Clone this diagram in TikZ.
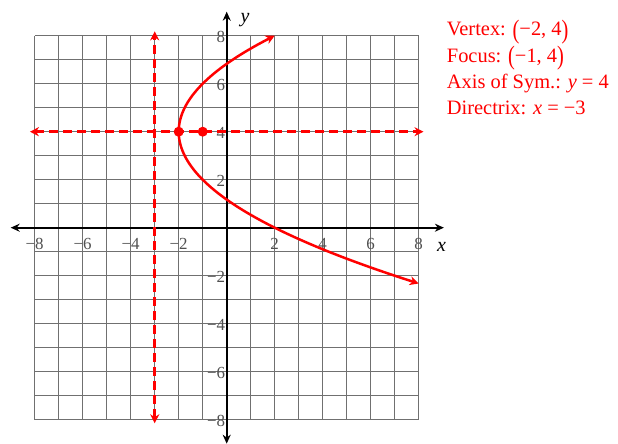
\documentclass[tikz,border=0pt]{standalone}
\usepackage{fontspec}
\usepackage{graphicx}
\setmainfont{Liberation Serif}
\usetikzlibrary{arrows.meta}
\definecolor{gridgray}{HTML}{707070}
\definecolor{ticklbl}{HTML}{505050}
\definecolor{myred}{HTML}{FF0000}
\newcommand{\bigP}[1]{\raisebox{-0.12em}{\scalebox{1}[1.3]{#1}}}
\tikzset{
  gridline/.style={draw=gridgray, line width=1bp},
  axisline/.style={draw=black, line width=1.6bp, {Stealth[length=9bp,width=8bp]}-{Stealth[length=9bp,width=8bp]}},
  redline/.style={draw=myred, line width=2.5bp, {Stealth[length=9bp,width=9bp]}-{Stealth[length=9bp,width=9bp]}},
  reddash/.style={redline, dash pattern=on 9bp off 5bp},
  ticklabel/.style={text=ticklbl, font=\fontsize{17}{17}\selectfont, inner sep=0pt},
  axislabel/.style={font=\fontsize{20}{20}\selectfont\itshape, inner sep=0pt},
  infotext/.style={text=myred, font=\fontsize{20.5}{20.5}\selectfont, inner sep=0pt, anchor=base west},
  reddot/.style={circle, fill=myred, inner sep=0pt, minimum size=10bp}
}
\begin{document}
\begin{tikzpicture}[x=24bp, y=24bp]
\useasboundingbox (-9.446,-9.0125) rectangle (16.304,9.4875);
% grid
\foreach \i in {-8,...,8} {
  \draw[gridline] (\i,-8) -- (\i,8);
  \draw[gridline] (-8,\i) -- (8,\i);
}
% axes
\coordinate (xl) at (-9,0);
\coordinate (xr) at (9.05,0);
\coordinate (yb) at (0,-9);
\coordinate (yt) at (0,9);
\draw[axisline] (xl) -- (xr);
\draw[axisline] (yb) -- (yt);
\node[axislabel] (xlab) at (8.95,-0.8) {x};
\node[axislabel] (ylab) at (0.76,8.65) {y};
% tick labels
\foreach \v/\t in {-8/−8,-6/−6,-4/−4,-2/−2,2/2,4/4,6/6,8/8} {
  \node[ticklabel] (xt\v) at (\v,-0.68) {\t};
  \node[ticklabel, anchor=east] (ytk\v) at (-0.06,\v-0.06) {\t};
}
% directrix and axis of symmetry
\coordinate (dtop) at (-3,8.18);
\coordinate (dbot) at (-3,-8.15);
\coordinate (aleft) at (-8.2,4);
\coordinate (aright) at (8.2,4);
\draw[reddash] (dbot) -- (dtop);
\draw[reddash] (aleft) -- (aright);
% parabola
\draw[redline] plot[domain=-6.3246:4, samples=120, smooth] ({(\x)*(\x)/4-2},{\x+4});
% points
\node[reddot] (vertex) at (-2,4) {};
\node[reddot] (focus) at (-1,4) {};
% info
\node[infotext] (t1) at (9.167,7.99) {Vertex: \bigP{(}−2, 4\bigP{)}};
\node[infotext] (t2) at (9.167,6.89) {Focus: \bigP{(}−1, 4\bigP{)}};
\node[infotext] (t3) at (9.167,5.79) {Axis of Sym.: \textit{y} = 4};
\node[infotext] (t4) at (9.167,4.70) {Directrix: \textit{x} = −3};
\end{tikzpicture}
\end{document}
